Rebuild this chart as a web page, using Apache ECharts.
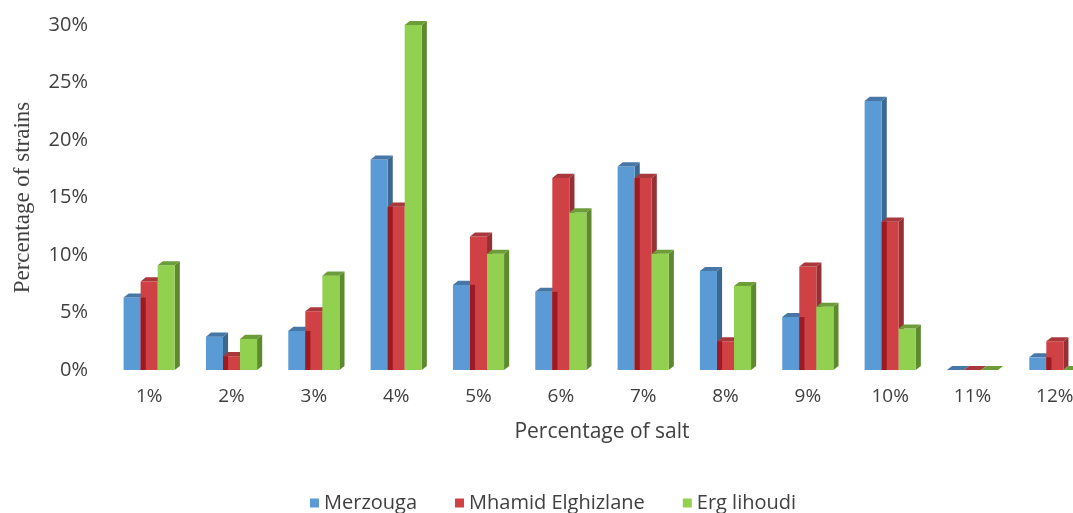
<!DOCTYPE html>
<html>
<head>
<meta charset="utf-8">
<script src="https://cdn.jsdelivr.net/npm/echarts@6/dist/echarts.min.js"></script>
<style>
  html, body { margin: 0; padding: 0; background: #ffffff; overflow: hidden; width: 1073px; height: 513px; }
  /* the drawing runs a little past the right edge of the page, so the last column is cut off */
  #chart { width: 1096px; height: 513px; }
</style>
</head>
<body>
<div id="chart"></div>
<script>
// Salt concentrations tested
const categories = ['1%', '2%', '3%', '4%', '5%', '6%', '7%', '8%', '9%', '10%', '11%', '12%'];
// Share of strains (%) tolerating each salt level, per site
const merzouga = [6.3, 2.9, 3.4, 18.3, 7.4, 6.8, 17.7, 8.6, 4.6, 23.4, 0, 1.1];
const mhamid   = [7.7, 1.2, 5.1, 14.2, 11.6, 16.7, 16.7, 2.5, 9.0, 12.9, 0, 2.5];
const erg      = [9.1, 2.7, 8.2, 30.0, 10.1, 13.7, 10.1, 7.3, 5.5, 3.6, 0, 0];
const seriesNames = ['Merzouga', 'Mhamid Elghizlane', 'Erg lihoudi'];

// front / side / top / inner-shadow shades for each site
const palette = [
  { front: '#5b9bd5', side: '#3b6791', top: '#4677a6', shadow: null },
  { front: '#d04145', side: '#973034', top: '#a8383c', shadow: '#9c1b23' },
  { front: '#92d050', side: '#5d8a2e', top: '#6c9d38', shadow: null }
];

const chart = echarts.init(document.getElementById('chart'), null, { renderer: 'canvas' });

// Extruded bar: front face, right side face and top face, drawn from axis coordinates
function makeRenderItem(k) {
  const c = palette[k];
  return function (params, api) {
    const idx = api.value(0);
    const v = api.value(1);
    const prev = api.value(2);
    const base = api.coord([idx, 0]);
    const top = api.coord([idx, v]);
    const band = api.size([1, 0])[0];
    const w = band * 0.207;
    const dx = w * 0.3;
    const dy = w * 0.24;
    const left = base[0] - 1.5 * w + k * w;
    const right = left + w;
    const yb = base[1];
    const yt = top[1];
    const children = [
      {
        type: 'polygon',
        shape: { points: [[right, yt], [right + dx, yt - dy], [right + dx, yb - dy], [right, yb]] },
        style: { fill: c.side }
      },
      {
        type: 'rect',
        shape: { x: left, y: yt, width: w, height: yb - yt },
        style: { fill: c.front }
      }
    ];
    if (c.shadow && prev > 0) {
      const ys = api.coord([idx, Math.min(prev, v)])[1];
      children.push({
        type: 'rect',
        shape: { x: left, y: ys, width: dx, height: yb - ys },
        style: { fill: c.shadow }
      });
    }
    children.push({
      type: 'polygon',
      shape: { points: [[left, yt], [left + dx, yt - dy], [right + dx, yt - dy], [right, yt]] },
      style: { fill: c.top }
    });
    return { type: 'group', children: children };
  };
}

const valueSets = [merzouga, mhamid, erg];
const series = valueSets.map(function (vals, k) {
  const before = k > 0 ? valueSets[k - 1] : null;
  return {
    name: seriesNames[k],
    type: 'custom',
    renderItem: makeRenderItem(k),
    itemStyle: { color: palette[k].front },
    encode: { x: 0, y: 1 },
    data: vals.map(function (v, i) { return [i, v, before ? before[i] : 0]; })
  };
});

const textColor = '#404040';

chart.setOption({
  animation: false,
  backgroundColor: '#ffffff',
  grid: { left: 108, right: 0, top: 25, bottom: 143, containLabel: false },
  legend: {
    data: seriesNames,
    left: 305,
    top: 488,
    icon: 'rect',
    itemWidth: 9,
    itemHeight: 9,
    itemGap: 38,
    textStyle: { color: textColor, fontFamily: 'Open Sans', fontSize: 20 }
  },
  xAxis: {
    type: 'category',
    data: categories,
    name: 'Percentage of salt',
    nameLocation: 'middle',
    nameGap: 52,
    nameTextStyle: { color: textColor, fontFamily: 'Open Sans', fontSize: 21 },
    axisLine: { show: false },
    axisTick: { show: false },
    axisLabel: { color: textColor, fontFamily: 'Open Sans', fontSize: 19, margin: 17 },
    splitLine: { show: false }
  },
  yAxis: {
    type: 'value',
    min: 0,
    max: 30,
    interval: 5,
    name: 'Percentage of strains',
    nameLocation: 'middle',
    nameRotate: 90,
    nameGap: 74,
    nameTextStyle: { color: textColor, fontFamily: 'Liberation Serif', fontSize: 23 },
    axisLine: { show: false },
    axisTick: { show: false },
    splitLine: { show: false },
    axisLabel: { color: textColor, fontFamily: 'Open Sans', fontSize: 20, margin: 20, formatter: '{value}%' }
  },
  series: series
});
</script>
</body>
</html>
